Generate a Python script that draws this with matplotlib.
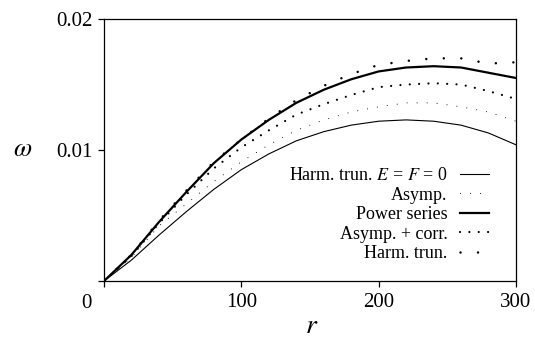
import numpy as np
import matplotlib
matplotlib.use('Agg')
import matplotlib.pyplot as plt

plt.rcParams['font.family'] = ['Liberation Serif', 'DejaVu Serif']
plt.rcParams['mathtext.fontset'] = 'stix'

# values
r = [0, 20, 40, 60, 80, 100, 120, 140, 160, 180, 200, 220, 240, 260, 280, 300]
harm_ef0 = [0, 0.0016, 0.0035, 0.0053, 0.0070, 0.0085, 0.0097, 0.0107, 0.0114,
            0.0119, 0.0122, 0.0123, 0.0122, 0.0119, 0.0113, 0.0104]
asymp = [0, 0.0018, 0.0042, 0.0059, 0.0076, 0.0091, 0.0104, 0.0115, 0.0123,
         0.0129, 0.0133, 0.0136, 0.0136, 0.0133, 0.0129, 0.0122]
power_series = [0, 0.0020, 0.0045, 0.0068, 0.0090, 0.0108, 0.0123, 0.0136, 0.0146,
                0.0154, 0.0160, 0.0163, 0.0164, 0.0163, 0.0159, 0.0155]
asymp_corr = [0, 0.0019, 0.0044, 0.0066, 0.0086, 0.0102, 0.0115, 0.0127, 0.0135,
              0.0142, 0.0148, 0.0150, 0.0151, 0.0150, 0.0145, 0.0139]
harm_trun = [0, 0.0020, 0.0046, 0.0069, 0.0091, 0.0108, 0.0124, 0.0138, 0.0149,
             0.0158, 0.0165, 0.0168, 0.0170, 0.0170, 0.0166, 0.0167]

labels = ['Harm. trun. $E$ = $F$ = 0', 'Asymp.', 'Power series',
          'Asymp. + corr.', 'Harm. trun.']
xticks = [0, 100, 200, 300]
xtick_labels = ['', '100', '200', '300']
yticks = [0, 0.01, 0.02]
ytick_labels = ['', '0.01', '0.02']


def main():
    fig = plt.figure(figsize=(5.35, 3.4), dpi=100)
    ax = fig.add_axes([0.1944, 0.1735, 0.77, 0.7705])

    ax.plot(r, harm_ef0, color='black', lw=0.8, label=labels[0])
    ax.plot(r, asymp, color='black', lw=0.8, linestyle=(0, (0.01, 9)),
            dash_capstyle='round', label=labels[1])
    ax.plot(r, power_series, color='black', lw=1.6, label=labels[2])
    ax.plot(r, asymp_corr, color='black', lw=1.6, linestyle=(0, (0.01, 4.2)),
            dash_capstyle='round', label=labels[3])
    ax.plot(r, harm_trun, color='black', lw=1.8, linestyle=(0, (0.01, 7)),
            dash_capstyle='round', label=labels[4])

    ax.set_xlim(0, 300)
    ax.set_ylim(0, 0.02)
    ax.set_xticks(xticks)
    ax.set_xticklabels(xtick_labels)
    ax.set_yticks(yticks)
    ax.set_yticklabels(ytick_labels)
    ax.tick_params(direction='out', length=4.5, width=0.9, labelsize=15, pad=4)
    for s in ax.spines.values():
        s.set_linewidth(0.9)

    # the shared zero at the corner
    ax.text(-0.042, -0.086, '0', transform=ax.transAxes, fontsize=15,
            ha='center', va='center')
    ax.set_xlabel('$r$', fontsize=20)
    ax.set_ylabel(r'$\omega$', fontsize=19, rotation=0, va='center', ha='center')
    ax.yaxis.set_label_coords(-0.197, 0.5)
    ax.xaxis.set_label_coords(0.505, -0.125)

    ax.legend(loc='upper right', bbox_to_anchor=(0.935, 0.435), frameon=False,
              markerfirst=False, fontsize=13, handlelength=1.6,
              handletextpad=0.7, labelspacing=0.14, borderpad=0, borderaxespad=0)

    fig.savefig('out.png', dpi=100)


if __name__ == '__main__':
    main()
